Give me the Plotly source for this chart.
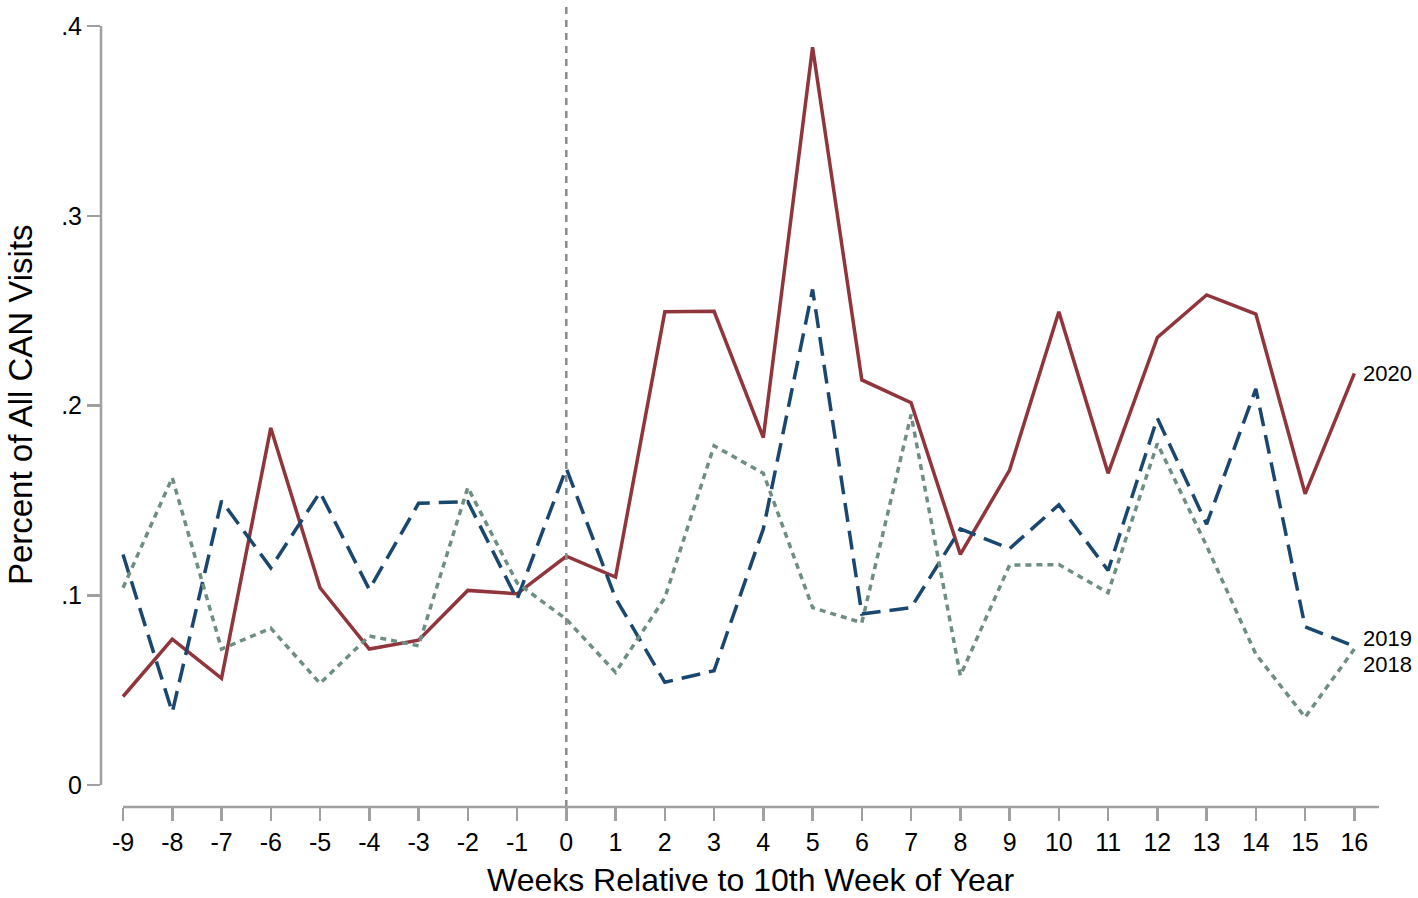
import plotly.graph_objects as go

weeks = list(range(-9, 17))

y2020 = [0.0467, 0.0769, 0.0563, 0.1882, 0.1040, 0.0717, 0.0764, 0.1026, 0.1008, 0.1206,
         0.1096, 0.2494, 0.2497, 0.1831, 0.3888, 0.2135, 0.2015, 0.1216, 0.1660, 0.2494,
         0.1643, 0.2359, 0.2583, 0.2482, 0.1535, 0.2170]
y2019 = [0.1215, 0.0384, 0.1498, 0.1145, 0.1543, 0.1031, 0.1485, 0.1494, 0.0979, 0.1669,
         0.0985, 0.0542, 0.0603, 0.1350, 0.2612, 0.0902, 0.0935, 0.1350, 0.1246, 0.1477,
         0.1131, 0.1934, 0.1375, 0.2088, 0.0834, 0.0732]
y2018 = [0.1040, 0.1620, 0.0717, 0.0827, 0.0536, 0.0786, 0.0734, 0.1568, 0.1066, 0.0874,
         0.0594, 0.0987, 0.1788, 0.1643, 0.0935, 0.0856, 0.1952, 0.0577, 0.1159, 0.1162,
         0.1014, 0.1800, 0.1260, 0.0690, 0.0358, 0.0717]

series_names = ["2020", "2019", "2018"]
y_tickvals = [0, 0.1, 0.2, 0.3, 0.4]
y_ticktext = ["0", ".1", ".2", ".3", ".4"]
x_title = "Weeks Relative to 10th Week of Year"
y_title = "Percent of All CAN Visits"

FONT = "Liberation Sans, Arial, Helvetica, sans-serif"
AXIS_GRAY = "#a0a0a0"
colors = {"2020": "#90353b", "2019": "#1a476f", "2018": "#6e8e84"}
dashes = {"2020": "solid", "2019": "19px,9px", "2018": "6px,5px"}

fig = go.Figure()
for name, ys in zip(series_names, [y2020, y2019, y2018]):
    fig.add_trace(go.Scatter(
        x=weeks, y=ys, mode="lines", name=name,
        line=dict(color=colors[name], width=3.5, dash=dashes[name]),
        showlegend=False, hoverinfo="skip",
    ))

# end-of-line labels
label_shifts = {"2020": 0, "2019": 8, "2018": -15}
for name, ys in zip(series_names, [y2020, y2019, y2018]):
    fig.add_annotation(
        x=weeks[-1], y=ys[-1], xref="x", yref="y",
        text=name, showarrow=False, xanchor="left", yanchor="middle",
        xshift=7, yshift=label_shifts[name],
        font=dict(family=FONT, size=22, color="black"),
    )

# reference line at week 0
fig.add_shape(type="line", xref="x", yref="paper", x0=0, x1=0, y0=0, y1=1.03,
              line=dict(color="#8a8a8a", width=2.5, dash="7px,6px"))

# Stata-style offset axis lines
fig.add_shape(type="line", xref="paper", yref="y", x0=0, x1=0,
              y0=y_tickvals[0], y1=y_tickvals[-1],
              line=dict(color=AXIS_GRAY, width=2.5))
fig.add_shape(type="line", xref="x", yref="paper", x0=weeks[0], x1=weeks[-1] + 0.5,
              y0=0, y1=0, line=dict(color=AXIS_GRAY, width=2.5))

# axis titles
fig.add_annotation(text=x_title, xref="paper", yref="paper", x=0.5086, y=0,
                   yshift=-73, showarrow=False, xanchor="center", yanchor="middle",
                   font=dict(family=FONT, size=32, color="black"))
fig.add_annotation(text=y_title, xref="paper", yref="paper", x=0, y=0.5146,
                   xshift=-81, showarrow=False, xanchor="center", yanchor="middle",
                   textangle=-90, font=dict(family=FONT, size=33, color="black"))

fig.update_xaxes(
    range=[-9.447, 16.5], tickmode="array", tickvals=weeks,
    ticktext=[str(w) for w in weeks],
    ticks="outside", ticklen=13, tickwidth=2.5, tickcolor=AXIS_GRAY,
    showgrid=False, zeroline=False, showline=False, fixedrange=True,
    tickfont=dict(family=FONT, size=25, color="black"),
)
fig.update_yaxes(
    range=[-0.01153, 0.4], tickmode="array", tickvals=y_tickvals, ticktext=y_ticktext,
    ticks="outside", ticklen=13, tickwidth=2.5, tickcolor=AXIS_GRAY,
    showgrid=False, zeroline=False, showline=False, fixedrange=True,
    tickfont=dict(family=FONT, size=25, color="black"),
    ticklabelstandoff=0,
)
fig.update_layout(
    width=1418, height=898,
    margin=dict(l=101, r=39, t=22, b=91),
    paper_bgcolor="white", plot_bgcolor="white",
    font=dict(family=FONT),
    hovermode=False,
)
fig.write_html(
    "out.html",
    config={"displayModeBar": False, "staticPlot": True},
    post_script="document.body.style.margin='0';document.body.style.overflow='hidden';",
)
